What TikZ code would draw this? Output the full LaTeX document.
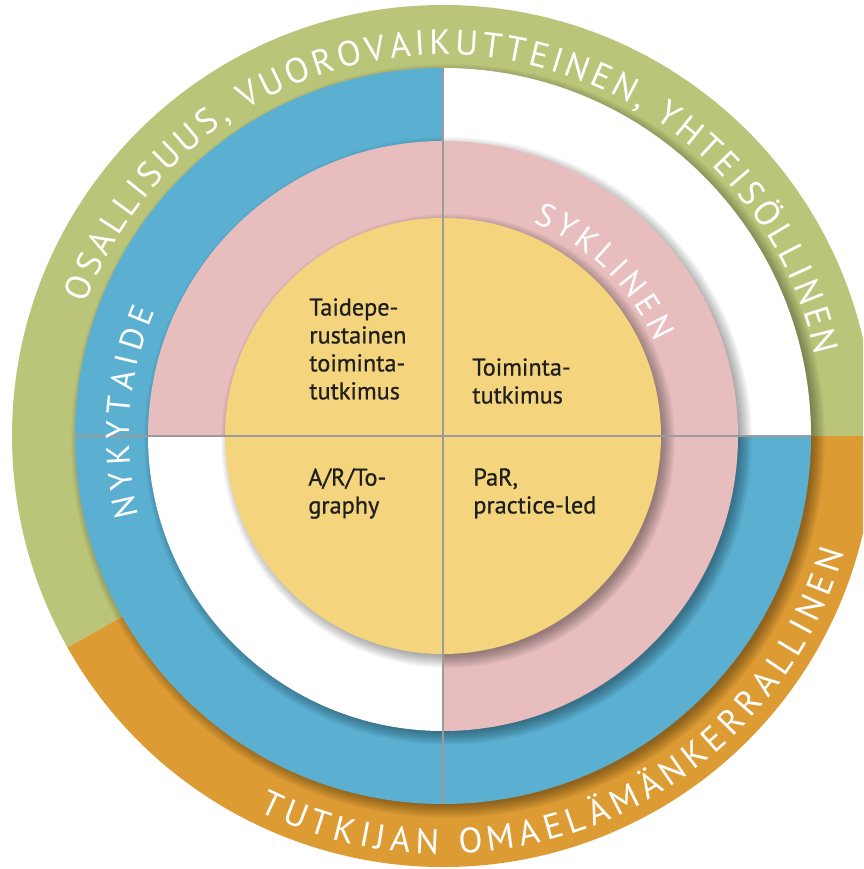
\documentclass[tikz,border=0pt]{standalone}
\usepackage{fontspec}
\usetikzlibrary{calc, decorations.text}
\newfontfamily\quadfont{PT Sans}[FakeBold=0.8]
\newfontfamily\ringfont{PT Sans}
\definecolor{ringgreen}{RGB}{186,197,122}
\definecolor{ringorange}{RGB}{221,155,52}
\definecolor{ringblue}{RGB}{91,176,210}
\definecolor{ringpink}{RGB}{231,189,189}
\definecolor{coreyellow}{RGB}{244,212,124}
\definecolor{divgray}{RGB}{155,155,155}
\tikzset{
  quadtext/.style={
    anchor=north west, inner sep=0pt, align=left,
    font=\quadfont\fontsize{13.8}{15.9}\selectfont, text=black!88
  },
  ringtext/.style 2 args={
    decorate, decoration={text along path, text align=fit to path,
      text color=white, text={|\ringfont\fontsize{#1}{#1}\selectfont|#2}}
  },
  discshadow/.style={fill=black, opacity=.028},
  divider/.style={draw=divgray, line width=.9pt}
}

\begin{document}
\begin{tikzpicture}[x=0.2mm, y=0.2mm]
    \useasboundingbox (0,0) rectangle (863,869);
    \clip (0,0) rectangle (863,869);
    \coordinate (ctr) at (443,433);

    % outer ring
    \fill[ringgreen] (ctr) -- ++(0:431) arc[start angle=0, end angle=209.4, radius=431] -- cycle;
    \fill[ringorange] (ctr) -- ++(209.4:431) arc[start angle=209.4, end angle=360, radius=431] -- cycle;

    % blue layer
    \foreach \k [evaluate=\k as \rr using 364+\k] in {0,...,13}
      \path[discshadow] ($(ctr)+(5,-5)$) circle[radius=\rr];
    \fill[ringblue] (ctr) -- ++(90:368) arc[start angle=90, end angle=360, radius=368] -- cycle;
    \fill[white] (ctr) -- ++(0:368) arc[start angle=0, end angle=90, radius=368] -- cycle;

    % pink layer
    \foreach \k [evaluate=\k as \rr using 291+\k] in {0,...,13}
      \path[discshadow] ($(ctr)+(5,-5)$) circle[radius=\rr];
    \fill[ringpink] (ctr) -- ++(-90:295) arc[start angle=-90, end angle=180, radius=295] -- cycle;
    \fill[white] (ctr) -- ++(180:295) arc[start angle=180, end angle=270, radius=295] -- cycle;

    % core
    \foreach \k [evaluate=\k as \rr using 214+\k] in {0,...,13}
      \path[discshadow] ($(ctr)+(5,-5)$) circle[radius=\rr];
    \fill[coreyellow] (ctr) circle[radius=218];

    \draw[divider] ($(ctr)+(0,368)$) -- ($(ctr)+(0,-368)$);
    \draw[divider] ($(ctr)+(-368,0)$) -- ($(ctr)+(368,0)$);

    % ring labels
    \path[ringtext={20}{OSALLISUUS, VUOROVAIKUTTEINEN, YHTEISÖLLINEN}]
      ($(ctr)+(159.7:381)$) arc[start angle=159.7, end angle=12.2, radius=381];
    \path[ringtext={20}{TUTKIJAN OMAELÄMÄNKERRALLINEN}]
      ($(ctr)+(243.8:418)$) arc[start angle=243.8, end angle=343.9, radius=418];
    \path[ringtext={18.7}{NYKYTAIDE}]
      ($(ctr)+(194.6:314)$) arc[start angle=194.6, end angle=156.5, radius=314];
    \path[ringtext={18.7}{SYKLINEN}]
      ($(ctr)+(67.1:232)$) arc[start angle=67.1, end angle=23.9, radius=232];

    % quadrant texts
    \node[quadtext] (artbased) at (309,571) {Taidepe-\\rustainen\\toiminta-\\tutkimus};
    \node[quadtext] (action) at (472,511) {Toiminta-\\tutkimus};
    \node[quadtext] (artography) at (308,401) {A/R/To-\\graphy};
    \node[quadtext] (practice) at (473,401) {PaR,\\practice-led};
\end{tikzpicture}
\end{document}
